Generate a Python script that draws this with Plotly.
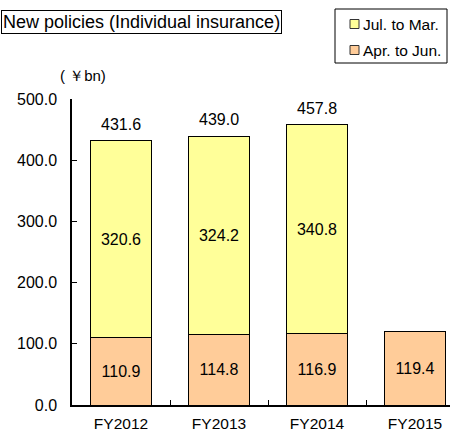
import plotly.graph_objects as go

categories = ["FY2012", "FY2013", "FY2014", "FY2015"]
apr_jun = [110.9, 114.8, 116.9, 119.4]
jul_mar = [320.6, 324.2, 340.8, None]
totals = [431.6, 439.0, 457.8, None]
y_ticks = [0, 100, 200, 300, 400, 500]
series_names = ["Apr. to Jun.", "Jul. to Mar."]
series_colors = ["#FFCC99", "#FFFF99"]

FONT = "Liberation Sans, Arial, sans-serif"

fig = go.Figure()
for name, vals, col in zip(series_names, [apr_jun, jul_mar], series_colors):
    fig.add_trace(go.Bar(
        x=categories, y=vals, name=name,
        marker=dict(color=col, line=dict(color="black", width=1)),
        text=[f"{v:.1f}" if v is not None else "" for v in vals],
        textposition="inside", insidetextanchor="middle", textangle=0,
        textfont=dict(color="black", size=16, family=FONT),
        constraintext="none", showlegend=False,
    ))

for c, t in zip(categories, totals):
    if t is not None:
        fig.add_annotation(x=c, y=t, text=f"{t:.1f}", showarrow=False,
                           yanchor="bottom", yshift=6,
                           font=dict(size=16, color="black", family=FONT))

L, R, T, B = 72, 0, 99, 27
W, H = 450, 432
pw, ph = W - L - R, H - T - B

def px(xp):
    return (xp - L) / pw

def py(yp):
    return (H - B - yp) / ph

# chart title box
fig.add_annotation(xref="paper", yref="paper", x=px(282), y=py(21.5),
                   xanchor="right", yanchor="middle",
                   text="New policies (Individual insurance)", showarrow=False,
                   bordercolor="black", borderwidth=1, borderpad=1,
                   font=dict(size=18, color="black", family=FONT))
# unit label
fig.add_annotation(xref="paper", yref="paper", x=px(83), y=py(75),
                   xanchor="center", yanchor="middle",
                   text="( ￥bn)", showarrow=False,
                   font=dict(size=15, color="black", family=FONT))

# legend (box, swatches, labels)
fig.add_shape(type="rect", xref="paper", yref="paper",
              x0=px(335), x1=px(447), y0=py(63), y1=py(9),
              line=dict(color="black", width=1), fillcolor="white", layer="above")
legend_rows = [("Jul. to Mar.", "#FFFF99", 24), ("Apr. to Jun.", "#FFCC99", 50)]
for label, col, yc in legend_rows:
    fig.add_shape(type="rect", xref="paper", yref="paper",
                  x0=px(350), x1=px(359), y0=py(yc + 4.5), y1=py(yc - 4.5),
                  line=dict(color="#333333", width=1), fillcolor=col, layer="above")
    fig.add_annotation(xref="paper", yref="paper", x=px(361), y=py(yc + 0.5),
                       xanchor="left", yanchor="middle", text=label, showarrow=False,
                       font=dict(size=15.5, color="black", family=FONT))

fig.update_layout(
    barmode="stack", bargap=0.386,
    width=W, height=H,
    margin=dict(l=L, r=R, t=T, b=B, autoexpand=False),
    plot_bgcolor="white", paper_bgcolor="white",
    font=dict(family=FONT, size=16, color="black"),
    showlegend=False,
    xaxis=dict(range=[-0.5, 3.357], showline=True, linecolor="black", linewidth=1.5,
               ticks="inside", ticklen=5, tickson="boundaries", tickcolor="black",
               showgrid=False, automargin=False, ticklabelstandoff=4,
               tickfont=dict(size=15.5, family=FONT)),
    yaxis=dict(range=[0, 500], tickvals=y_ticks, tickformat=".1f",
               showline=True, linecolor="black", linewidth=1.5,
               ticks="inside", ticklen=5, tickcolor="black", showgrid=False,
               zeroline=False, automargin=False, ticklabelstandoff=10,
               tickfont=dict(size=16, family=FONT)),
)

fig.write_html("out.html", config={"displayModeBar": False},
               post_script="document.body.style.margin='0';document.body.style.padding='0';")
